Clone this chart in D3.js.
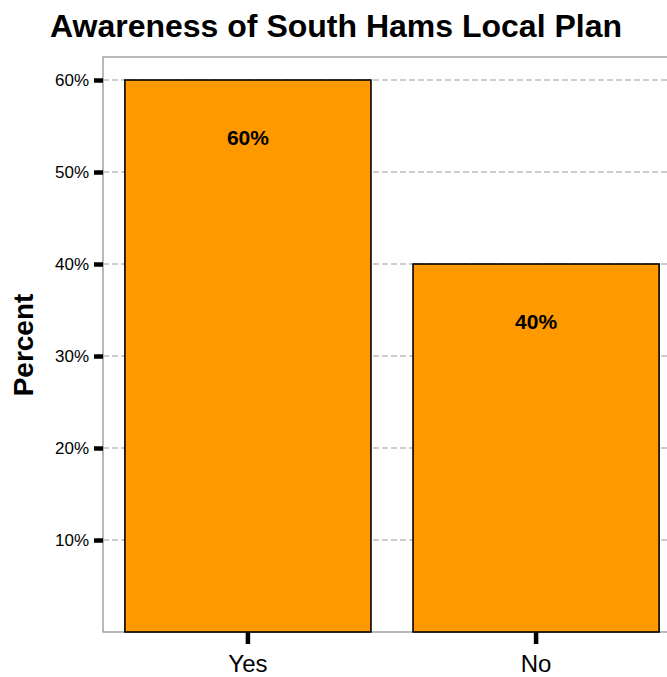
<!DOCTYPE html>
<html>
<head>
<meta charset="utf-8">
<script src="https://cdn.jsdelivr.net/npm/d3@7"></script>
<style>
  html, body { margin: 0; padding: 0; background: #fff; }
  svg { display: block; font-family: "Liberation Sans", Arial, sans-serif; }
</style>
</head>
<body>
<svg id="chart" width="667" height="677"></svg>
<script>
// Survey answers and their shares (percent)
const categories = ["Yes", "No"];
const percents = [60, 40];
const yTicks = [10, 20, 30, 40, 50, 60];
const title = "Awareness of South Hams Local Plan";
const yTitle = "Percent";

const width = 667, height = 677;
const panel = { left: 103, top: 57, right: 681, bottom: 632 };

const svg = d3.select("#chart");

const x = d3.scaleBand()
  .domain(categories)
  .range([panel.left, panel.right])
  .paddingInner(0.146)
  .paddingOuter(0.076);

const y = d3.scaleLinear()
  .domain([0, 62.5])
  .range([panel.bottom, panel.top]);

// Horizontal dashed grid
svg.append("g")
  .selectAll("line")
  .data(yTicks)
  .join("line")
  .attr("x1", panel.left)
  .attr("x2", panel.right)
  .attr("y1", d => y(d))
  .attr("y2", d => y(d))
  .attr("stroke", "#999")
  .attr("stroke-width", 1)
  .attr("stroke-dasharray", "6,3");

// Panel border
svg.append("rect")
  .attr("x", panel.left)
  .attr("y", panel.top)
  .attr("width", panel.right - panel.left)
  .attr("height", panel.bottom - panel.top)
  .attr("fill", "none")
  .attr("stroke", "#8c8c8c")
  .attr("stroke-width", 1.2);

// Bars
const data = categories.map((c, i) => ({ cat: c, val: percents[i] }));
svg.append("g")
  .selectAll("rect")
  .data(data)
  .join("rect")
  .attr("x", d => x(d.cat))
  .attr("y", d => y(d.val))
  .attr("width", x.bandwidth())
  .attr("height", d => y(0) - y(d.val))
  .attr("fill", "#ff9900")
  .attr("stroke", "#000")
  .attr("stroke-width", 1.6);

// Value labels inside bars
svg.append("g")
  .selectAll("text")
  .data(data)
  .join("text")
  .attr("x", d => x(d.cat) + x.bandwidth() / 2)
  .attr("y", d => y(d.val) + 65)
  .attr("text-anchor", "middle")
  .attr("font-size", 21)
  .attr("font-weight", "bold")
  .attr("fill", "#000")
  .text(d => d.val + "%");

// Y axis
const yAxis = svg.append("g")
  .attr("transform", `translate(${panel.left},0)`)
  .call(d3.axisLeft(y).tickValues(yTicks).tickSize(9).tickPadding(5).tickFormat(d => d + "%"));
yAxis.select(".domain").remove();
yAxis.selectAll(".tick line").attr("stroke", "#000").attr("stroke-width", 4.5);
yAxis.selectAll(".tick text")
  .attr("font-size", 17)
  .attr("font-family", "Liberation Sans, Arial, sans-serif")
  .attr("fill", "#000");

// X axis
const xAxis = svg.append("g")
  .attr("transform", `translate(0,${panel.bottom})`)
  .call(d3.axisBottom(x).tickSize(12).tickPadding(11));
xAxis.select(".domain").remove();
xAxis.selectAll(".tick line").attr("stroke", "#000").attr("stroke-width", 4.5);
xAxis.selectAll(".tick text")
  .attr("font-size", 24)
  .attr("font-family", "Liberation Sans, Arial, sans-serif")
  .attr("fill", "#000");

// Title
svg.append("text")
  .attr("x", 336)
  .attr("y", 37)
  .attr("text-anchor", "middle")
  .attr("font-size", 32)
  .attr("font-weight", "bold")
  .text(title);

// Y axis title
svg.append("text")
  .attr("transform", `translate(33,345) rotate(-90)`)
  .attr("text-anchor", "middle")
  .attr("font-size", 28)
  .attr("font-weight", "bold")
  .text(yTitle);
</script>
</body>
</html>
